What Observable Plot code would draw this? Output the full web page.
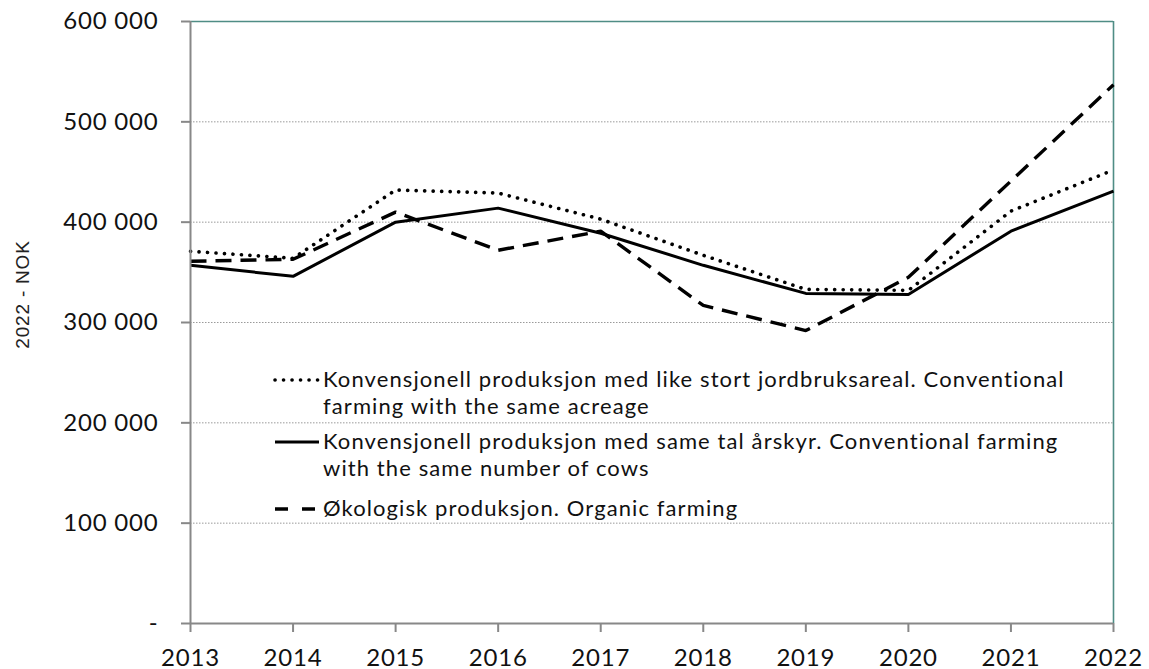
<!DOCTYPE html>
<html>
<head>
<meta charset="utf-8">
<script src="https://cdn.jsdelivr.net/npm/d3@7"></script>
<script src="https://cdn.jsdelivr.net/npm/@observablehq/plot@0.6"></script>
<style>
  html, body { margin: 0; padding: 0; background: #fff; }
  #wrap { position: relative; width: 1149px; height: 669px; font-family: Lato, "Open Sans", sans-serif; }
  #legend { position: absolute; left: 0; top: 0; width: 1149px; height: 669px; pointer-events: none; }
  .item { position: absolute; left: 273px; display: flex; align-items: flex-start; }
  .item svg { flex: none; margin-top: 11px; }
  .item .txt { font-size: 22px; letter-spacing: 1.1px; line-height: 27px; color: #111; margin-left: 2px; white-space: nowrap; }
  #chart svg text { letter-spacing: 0.8px; }
</style>
</head>
<body>
<div id="wrap"><div id="chart"></div><div id="legend"></div></div>
<script>
const years = [2013, 2014, 2015, 2016, 2017, 2018, 2019, 2020, 2021, 2022];
const acreage = [371000, 364000, 432000, 429000, 403000, 367000, 333000, 332000, 411000, 452000];
const cows = [357000, 346000, 400000, 414000, 389000, 357000, 329000, 328000, 391000, 431000];
const organic = [361000, 363000, 410000, 372000, 391000, 317000, 292000, 345000, 441000, 537000];
const yTicks = [0, 100000, 200000, 300000, 400000, 500000, 600000];
const seriesNames = [
  ["Konvensjonell produksjon med like stort jordbruksareal. Conventional", "farming with the same acreage"],
  ["Konvensjonell produksjon med same tal årskyr. Conventional farming", "with the same number of cows"],
  ["Økologisk produksjon. Organic farming"]
];
const yLabel = "2022 - NOK";

const styles = [
  {dash: "0.1,8.4", cap: "round", width: 3.6},
  {dash: null, cap: "butt", width: 3},
  {dash: "16,9", cap: "butt", width: 3.4}
];
const seriesVals = [acreage, cows, organic];
const data = seriesVals.map((vals, i) => years.map((y, j) => ({year: y, value: vals[j], s: i})));

const fmt = v => v === 0 ? "-" : d3.format(",")(v).replace(/,/g, " ");

const plot = Plot.plot({
  width: 1149,
  height: 669,
  marginLeft: 190,
  marginRight: 36,
  marginTop: 21,
  marginBottom: 46,
  style: {fontFamily: "Lato, 'Open Sans', sans-serif", background: "#fff", overflow: "visible"},
  x: {domain: [2013, 2022], ticks: years},
  y: {domain: [0, 600000], ticks: yTicks},
  marks: [
    Plot.gridY(yTicks.filter(t => t > 0 && t < 600000), {stroke: "#9a9a9a", strokeOpacity: 1, strokeDasharray: "1.5,1.5", strokeWidth: 1}),
    Plot.ruleY([600000], {stroke: "#4f8d85", strokeWidth: 1.6}),
    Plot.ruleX([2022], {stroke: "#4f8d85", strokeWidth: 1.6}),
    ...data.map((d, i) => Plot.line(d, {x: "year", y: "value", stroke: "#000", strokeWidth: styles[i].width,
      strokeDasharray: styles[i].dash, strokeLinecap: styles[i].cap, strokeLinejoin: "miter"})),
    Plot.ruleX([2013], {stroke: "#888", strokeWidth: 2}),
    Plot.ruleY([0], {stroke: "#888", strokeWidth: 2}),
    Plot.axisY({ticks: yTicks, tickFormat: fmt, tickSize: 9, tickPadding: 23, stroke: "#888", strokeWidth: 2,
      fontSize: 24, fill: "#111", label: null}),
    Plot.axisX({ticks: years, tickFormat: d => String(d), tickSize: 9, tickPadding: 16, stroke: "#888", strokeWidth: 2,
      fontSize: 24, fill: "#111", label: null}),
    Plot.text([yLabel], {frameAnchor: "left", textAnchor: "middle", dx: -168, dy: -28, rotate: -90, text: d => d, fontSize: 19,
      fontFamily: "'Liberation Sans', Arial, sans-serif", fill: "#222"})
  ]
});
document.getElementById("chart").appendChild(plot);

// legend overlay
const legend = document.getElementById("legend");
const tops = [365, 427, 494];
seriesNames.forEach((lines, i) => {
  const item = document.createElement("div");
  item.className = "item";
  item.style.top = tops[i] + "px";
  const st = styles[i];
  item.innerHTML = `<svg width="48" height="8"><line x1="2" y1="4" x2="46" y2="4" stroke="#000" stroke-width="${st.width}"
     ${st.dash ? `stroke-dasharray="${i === 2 ? "13,14" : st.dash}"` : ""} stroke-linecap="${st.cap}"/></svg>
     <div class="txt">${lines.join("<br>")}</div>`;
  legend.appendChild(item);
});
</script>
</body>
</html>
